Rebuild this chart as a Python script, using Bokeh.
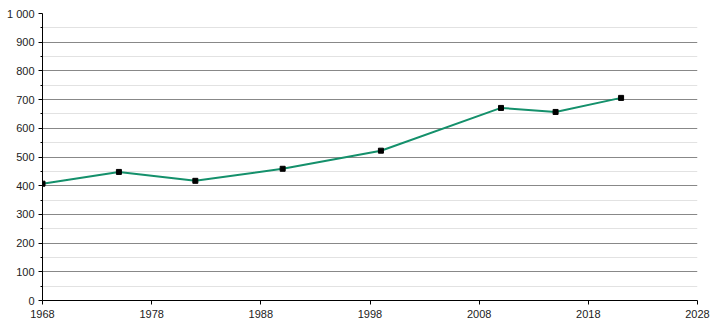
from bokeh.plotting import figure
from bokeh.models import FixedTicker, Range1d, ColumnDataSource
from bokeh.embed import file_html
from bokeh.resources import INLINE

years = [1968, 1975, 1982, 1990, 1999, 2010, 2015, 2021]
values = [407, 448, 417, 459, 522, 671, 657, 706]
x_ticks = [1968, 1978, 1988, 1998, 2008, 2018, 2028]
y_ticks = [0, 100, 200, 300, 400, 500, 600, 700, 800, 900, 1000]
y_minor = [50, 150, 250, 350, 450, 550, 650, 750, 850, 950]

src = ColumnDataSource(dict(x=years, y=values))

p = figure(width=710, height=320, output_backend="svg", toolbar_location=None,
           x_range=Range1d(1968, 2028), y_range=Range1d(0, 1000),
           min_border_left=42, min_border_right=13, min_border_top=13, min_border_bottom=20)
p.outline_line_color = None
p.background_fill_color = "white"
p.border_fill_color = "white"

p.line("x", "y", source=src, line_color="#14906b", line_width=2)
p.scatter("x", "y", source=src, marker="square", size=5, fill_color="black", line_color="black")

p.xaxis.ticker = FixedTicker(ticks=x_ticks)
p.yaxis.ticker = FixedTicker(ticks=y_ticks, minor_ticks=y_minor)
p.yaxis.major_label_overrides = {1000: "1 000"}

for ax in [p.xaxis[0], p.yaxis[0]]:
    ax.axis_line_color = "black"
    ax.major_tick_line_color = "black"
    ax.minor_tick_line_color = "black"
    ax.major_tick_in = 0
    ax.major_tick_out = 4
    ax.minor_tick_in = 0
    ax.minor_tick_out = 2
    ax.major_label_text_font = "Liberation Sans"
    ax.major_label_text_font_size = "11px"
    ax.major_label_text_color = "#222222"
    ax.major_label_standoff = 4
p.xaxis.major_label_standoff = 5
p.xaxis.minor_tick_line_color = None

p.xgrid.grid_line_color = None
p.ygrid.grid_line_color = "#888888"
p.ygrid.minor_grid_line_color = "#e2e2e2"

open("out.html", "w").write(file_html(p, INLINE))
